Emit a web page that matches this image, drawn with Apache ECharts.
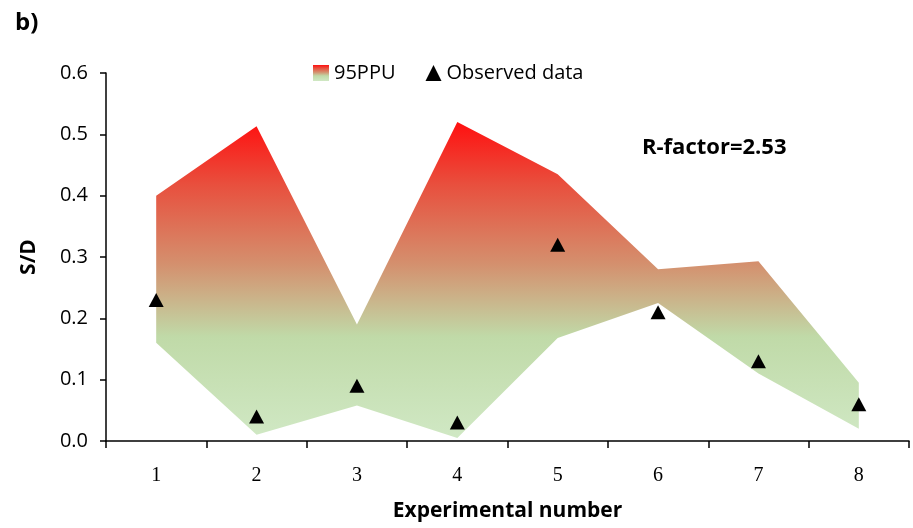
<!DOCTYPE html>
<html><head><meta charset="utf-8">
<script src="https://cdn.jsdelivr.net/npm/echarts@6/dist/echarts.min.js"></script>
<style>html,body{margin:0;padding:0;background:#fff}#c{width:913px;height:528px}</style>
</head><body><div id="c"></div>
<script>
var categories = ['1','2','3','4','5','6','7','8'];
var bandLower = [0.160, 0.010, 0.058, 0.005, 0.168, 0.225, 0.110, 0.020];
var bandUpper = [0.400, 0.513, 0.190, 0.520, 0.435, 0.280, 0.293, 0.095];
var observed  = [0.23, 0.04, 0.09, 0.03, 0.32, 0.21, 0.13, 0.06];
var yTicks = [0, 0.1, 0.2, 0.3, 0.4, 0.5, 0.6];

var bandDiff = bandUpper.map(function(u, i){ return +(u - bandLower[i]).toFixed(4); });
function grad(){
  return new echarts.graphic.LinearGradient(0,0,0,1,[
    {offset:0, color:'#ff1010'},
    {offset:0.2, color:'#e8503e'},
    {offset:0.45, color:'#d4906e'},
    {offset:0.68, color:'#c0daa8'},
    {offset:1, color:'#d0e8c4'}
  ]);
}
var chart = echarts.init(document.getElementById('c'), null, {renderer:'canvas'});
chart.setOption({
  animation:false,
  backgroundColor:'#fff',
  grid:{left:106, right:4, top:73, bottom:87, containLabel:false, outerBoundsMode:'none'},
  title:[
    {text:'b)', left:10, top:6, textStyle:{fontFamily:'Open Sans', fontWeight:'bold', fontSize:24, color:'#000'}},
    {text:'R-factor=2.53', left:637, top:132, textStyle:{fontFamily:'Open Sans', fontWeight:'bold', fontSize:22, color:'#000'}}
  ],
  legend:{
    top:58, left:308, itemGap:30, itemWidth:16, itemHeight:16, itemStyle:{opacity:1},
    textStyle:{fontFamily:'Open Sans', fontSize:20, color:'#000'},
    data:[
      {name:'95PPU', icon:'rect', itemStyle:{color:grad(), opacity:1}},
      {name:'Observed data', icon:'triangle', itemStyle:{color:'#000', opacity:1}}
    ]
  },
  xAxis:{
    type:'category', data:categories, boundaryGap:true,
    name:'Experimental number', nameLocation:'middle', nameGap:60,
    nameTextStyle:{fontFamily:'Open Sans', fontWeight:'bold', fontSize:21, color:'#000'},
    axisLine:{lineStyle:{color:'#000', width:1.5}},
    axisTick:{show:true, alignWithLabel:false, length:7, lineStyle:{color:'#000', width:1.5}},
    axisLabel:{fontFamily:'Liberation Serif', fontSize:20, color:'#000', margin:25},
    splitLine:{show:false}
  },
  yAxis:{
    type:'value', min:0, max:0.6, interval:0.1,
    name:'S/D', nameLocation:'middle', nameGap:66, nameRotate:90,
    nameTextStyle:{fontFamily:'Open Sans', fontWeight:'bold', fontSize:21, color:'#000'},
    axisLine:{show:true, lineStyle:{color:'#000', width:1.5}},
    axisTick:{show:true, length:6, lineStyle:{color:'#000', width:1.5}},
    axisLabel:{fontFamily:'Open Sans', fontSize:20, color:'#000', margin:18,
      formatter:function(v){ return v.toFixed(1); }},
    splitLine:{show:false}
  },
  series:[
    {name:'lower', type:'line', stack:'band', data:bandLower, showSymbol:false,
     lineStyle:{opacity:0}, silent:true},
    {name:'95PPU', type:'line', stack:'band', data:bandDiff, showSymbol:false,
     lineStyle:{opacity:0}, itemStyle:{color:'#d4906e'},
     areaStyle:{color:grad(), opacity:1}},
    {name:'Observed data', type:'scatter', data:observed, symbol:'triangle',
     symbolSize:[15,14], itemStyle:{color:'#000', opacity:1}, z:5}
  ]
});
</script></body></html>
